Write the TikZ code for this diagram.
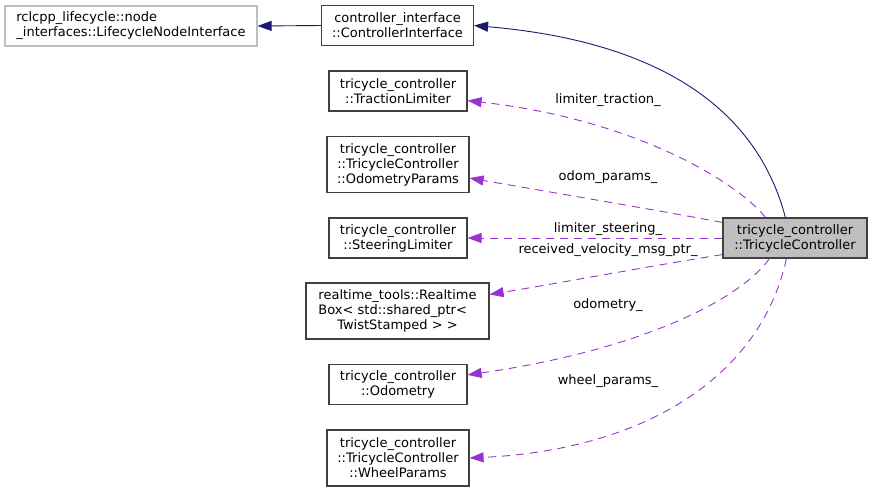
\documentclass[tikz,border=0pt]{standalone}
\usepackage{fontspec}
\setmainfont{DejaVu Sans}
\usetikzlibrary{arrows.meta,calc}
\definecolor{edgenavy}{HTML}{191970}
\definecolor{edgepurple}{HTML}{9A32CD}
\definecolor{boxgray}{HTML}{BFBFBF}
\definecolor{boxline}{HTML}{404040}
\begin{document}
\begin{tikzpicture}[x=1pt,y=-1pt,
  font=\fontsize{13}{15}\selectfont,
  cls/.style={draw=boxline, line width=1.2pt, fill=white, inner sep=0pt, align=center},
  lbl/.style={inner sep=0pt, text=black},
  navyedge/.style={draw=edgenavy, line width=0.9pt, -{Triangle[length=14pt,width=10pt]}, fill=none},
  puredge/.style={draw=edgepurple, line width=0.9pt, dash pattern=on 8pt off 6pt,
    -{Triangle[length=14pt,width=10pt,fill=edgepurple]}}
]
\useasboundingbox (0,0) rectangle (872,491);

% nodes
\node[cls, draw=boxgray, align=left, minimum width=252pt, minimum height=40pt] (lc) at (131,26)
  {rclcpp\_lifecycle::node\\\_interfaces::LifecycleNodeInterface};
\node[cls, minimum width=152pt, minimum height=40pt] (ci) at (397.5,25.5)
  {controller\_interface\\::ControllerInterface};
\node[cls, minimum width=138pt, minimum height=40pt] (tl) at (398,91)
  {tricycle\_controller\\::TractionLimiter};
\node[cls, minimum width=142pt, minimum height=56pt] (op) at (398,164.5)
  {tricycle\_controller\\::TricycleController\\::OdometryParams};
\node[cls, minimum width=138pt, minimum height=40pt] (sl) at (398,238)
  {tricycle\_controller\\::SteeringLimiter};
\node[cls, minimum width=183pt, minimum height=56pt] (rt) at (397.5,311)
  {\begin{tabular}{@{}l@{}}realtime\_tools::Realtime\\Box< std::shared\_ptr<\\\multicolumn{1}{@{}c@{}}{TwistStamped > >}\end{tabular}};
\node[cls, minimum width=138pt, minimum height=40pt] (od) at (398,384.5)
  {tricycle\_controller\\::Odometry};
\node[cls, minimum width=142pt, minimum height=56pt] (wp) at (398,458)
  {tricycle\_controller\\::TricycleController\\::WheelParams};
\node[cls, fill=boxgray, minimum width=144pt, minimum height=40pt] (tc) at (795,238)
  {tricycle\_controller\\::TricycleController};

% edges
\draw[navyedge] (ci.west) -- (lc.east);
\draw[navyedge] ($(tc.north west)+(63,0)$) .. controls (765,140) and (700,45) .. (ci.east);

\draw[puredge] ($(tc.north west)+(43,0)$) .. controls (740,185) and (640,120) .. ($(tl.south east)+(0,-11)$);
\draw[puredge] ($(tc.north west)+(0,5)$) .. controls (650,209) and (550,192) .. ($(op.south east)+(0,-15)$);
\draw[puredge] (tc.west) -- (sl.east);
\draw[puredge] ($(tc.south west)+(0,-4)$) .. controls (650,266) and (560,283) .. ($(rt.north east)+(0,12)$);
\draw[puredge] ($(tc.south west)+(47,0)$) .. controls (740,300) and (640,350) .. ($(od.north east)+(0,11)$);
\draw[puredge] ($(tc.south west)+(64,0)$) .. controls (760,380) and (640,450) .. (wp.east);

% labels
\node[lbl] (l1) at (608,100) {limiter\_traction\_};
\node[lbl] (l2) at (608,177) {odom\_params\_};
\node[lbl] (l3) at (608,229) {limiter\_steering\_};
\node[lbl] (l4) at (608,250) {received\_velocity\_msg\_ptr\_};
\node[lbl] (l5) at (608,305) {odometry\_};
\node[lbl] (l6) at (608,381) {wheel\_params\_};
\end{tikzpicture}
\end{document}
